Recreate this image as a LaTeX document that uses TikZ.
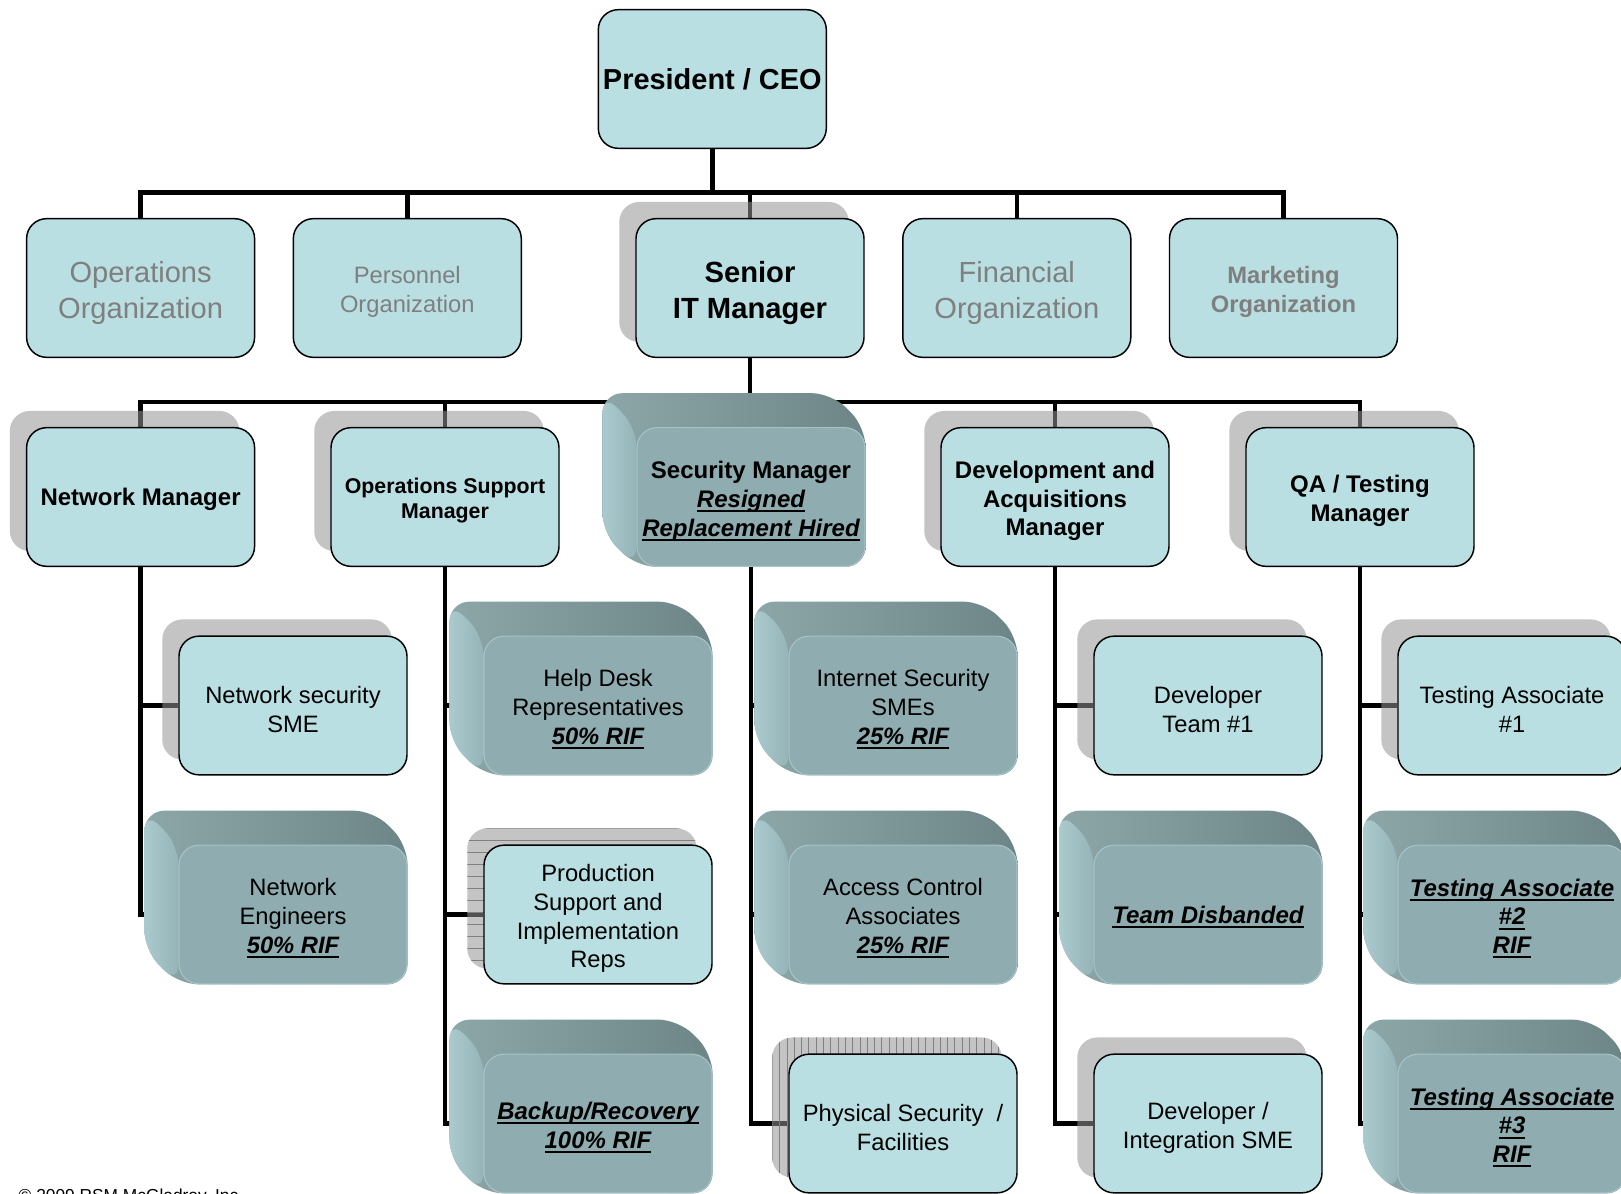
\documentclass[tikz,border=0pt]{standalone}
\usepackage{fontspec}
\setmainfont{Liberation Sans}
\usetikzlibrary{calc}
\pgfdeclarelayer{lines}
\pgfdeclarelayer{shade}
\pgfsetlayers{lines,shade,main}
\definecolor{boxc}{HTML}{B9DFE2}
\definecolor{frontc}{HTML}{8FADB0}
\definecolor{edgec}{HTML}{A6C4C7}
\definecolor{topc}{HTML}{6D8587}
\definecolor{topl}{HTML}{8DA7A9}
\definecolor{leftl}{HTML}{AACACD}
\definecolor{leftd}{HTML}{94B4B7}
\definecolor{greyt}{HTML}{7F7F7F}
\definecolor{shadowc}{gray}{0.58}
\definecolor{stripec}{gray}{0.5}
\newcommand\myul[1]{\leavevmode\setbox0\hbox{#1}\rlap{\copy0}\rule[-0.2em]{\wd0}{0.085em}}
\newcommand\stm{\rule{0pt}{1.06em}}
\newcommand\sts{\rule{0pt}{0.95em}}
\tikzset{
  basebox/.style={rectangle, rounded corners=15pt, minimum width=171pt, minimum height=104pt, inner sep=2pt, align=center},
  lbox/.style={basebox, draw=black, line width=1.1pt, fill=boxc},
  dbox/.style={basebox, draw=edgec, line width=0.8pt, fill=frontc},
  conn/.style={line width=3.4pt, black},
  treg/.style={font=\fontsize{17.8}{21.6}\selectfont},
  tbold/.style={font=\fontsize{18}{21.6}\selectfont\bfseries},
  tbig/.style={font=\fontsize{21.8}{27}\selectfont},
}
\newcommand\shad[1]{%
  \begin{pgfonlayer}{shade}
  \fill[shadowc, opacity=0.55, rounded corners=15pt] ([shift={(-16,-16)}]#1.south west) rectangle ([shift={(-16,-16)}]#1.north east);
  \end{pgfonlayer}}
\newcommand\shadH[1]{%
  \begin{pgfonlayer}{shade}
  \fill[shadowc, opacity=0.55, rounded corners=15pt] ([shift={(-16,-16)}]#1.south west) rectangle ([shift={(-16,-16)}]#1.north east);
  \begin{scope}
  \clip[rounded corners=15pt] ([shift={(-16,-16)}]#1.south west) rectangle ([shift={(-16,-16)}]#1.north east);
  \foreach \k in {0,...,13} \draw[stripec, line width=0.5pt] ($(#1.north west)+(-20,-16+\k*12)$) -- ++(250,0);
  \end{scope}
  \end{pgfonlayer}}
\newcommand\shadV[1]{%
  \begin{pgfonlayer}{shade}
  \fill[shadowc, opacity=0.55, rounded corners=15pt] ([shift={(-16,-16)}]#1.south west) rectangle ([shift={(-16,-16)}]#1.north east);
  \begin{scope}
  \clip[rounded corners=15pt] ([shift={(-16,-16)}]#1.south west) rectangle ([shift={(-16,-16)}]#1.north east);
  \foreach \k in {0,...,32} \draw[stripec, line width=0.5pt] ($(#1.north west)+(-16+\k*7.3,-20)$) -- ++(0,170);
  \end{scope}
  \end{pgfonlayer}}
\newcommand\threeD[1]{%
  \begin{pgfonlayer}{shade}
  \shade[left color=topl, right color=topc, rounded corners=15pt] ([shift={(-34,-34)}]#1.north west) -- ([shift={(-34,-34)}]#1.north east) -- (#1.north east) -- (#1.south east) -- (#1.south west) -- ([shift={(-34,-34)}]#1.south west) -- cycle;
  \shade[left color=leftl, right color=leftd, rounded corners=15pt] ([shift={(-34,-34)}]#1.north west) -- (#1.north west) -- (#1.south west) -- ([shift={(-34,-34)}]#1.south west) -- cycle;
  \end{pgfonlayer}}
\begin{document}
\begin{tikzpicture}[x=0.75pt,y=-0.75pt]
\useasboundingbox (0,0) rectangle (1621,1193);
\begin{pgfonlayer}{lines}
\fill[white] (0,0) rectangle (1621,1193);
\end{pgfonlayer}
\coordinate (bus1) at (712.3,192.3);
\coordinate (bus2) at (750,402.2);

% level 1
\node[lbox, font=\fontsize{21.7}{26}\selectfont\bfseries] (ceo) at (712.3,79) {President / CEO};

% level 2
\node[lbox, tbig, text=greyt] (ops) at (140.6,288) {\stm Operations\\Organization};
\node[lbox, treg, text=greyt] (pers) at (407.3,288) {\stm Personnel\\Organization};
\node[lbox, font=\fontsize{21.9}{27}\selectfont\bfseries] (sit) at (750,288) {\stm Senior\\IT Manager};
\node[lbox, tbig, text=greyt] (fin) at (1016.8,288) {\stm Financial\\Organization};
\node[lbox, font=\fontsize{17.8}{21.6}\selectfont\bfseries, text=greyt] (mkt) at (1283.5,288) {\stm Marketing\\Organization};

% level 3
\node[lbox, tbold] (nm) at (140.6,497) {\sts Network Manager};
\node[lbox, font=\fontsize{16}{19.4}\selectfont\bfseries] (osm) at (445,497) {\stm Operations Support\\Manager};
\node[dbox, tbold] (sec) at (751,497) {\stm Security Manager\\\myul{\itshape Resigned}\\\myul{\itshape Replacement Hired}};
\node[lbox, tbold] (dam) at (1055,497) {\stm Development and\\Acquisitions\\Manager};
\node[lbox, tbold] (qam) at (1360,497) {\stm QA / Testing\\Manager};

% level 4, column 1
\node[lbox, treg] (nss) at (293,705.5) {\stm Network security\\SME};
\node[dbox, treg] (ne) at (293,914.5) {\stm Network\\Engineers\\\myul{\bfseries\itshape 50\% RIF}};
% column 2
\node[dbox, treg] (hd) at (598,705.5) {\stm Help Desk\\Representatives\\\myul{\bfseries\itshape 50\% RIF}};
\node[lbox, treg] (ps) at (598,914.5) {\stm Production\\Support and\\Implementation\\Reps};
\node[dbox, tbold] (br) at (598,1123.5) {\stm\myul{\itshape Backup/Recovery}\\\myul{\itshape 100\% RIF}};
% column 3
\node[dbox, treg] (is) at (903,705.5) {\stm Internet Security\\SMEs\\\myul{\bfseries\itshape 25\% RIF}};
\node[dbox, treg] (ac) at (903,914.5) {\stm Access Control\\Associates\\\myul{\bfseries\itshape 25\% RIF}};
\node[lbox, treg] (phys) at (903,1123.5) {\stm Physical Security\ \ /\\Facilities};
% column 4
\node[lbox, treg] (dt) at (1208,705.5) {\stm Developer\\Team \#1};
\node[dbox, tbold] (td) at (1208,914.5) {\sts\myul{\itshape Team Disbanded}};
\node[lbox, treg] (dis) at (1208,1123.5) {\stm Developer /\\Integration SME};
% column 5
\node[lbox, treg] (ta1) at (1512,705.5) {\stm Testing Associate\\\#1};
\node[dbox, tbold] (ta2) at (1512,914.5) {\stm\myul{\itshape Testing Associate}\\\myul{\itshape \#2}\\\myul{\itshape RIF}};
\node[dbox, tbold] (ta3) at (1512,1123.5) {\stm\myul{\itshape Testing Associate}\\\myul{\itshape \#3}\\\myul{\itshape RIF}};

% connectors
\begin{pgfonlayer}{lines}
\draw[conn] (ceo.south) -- (bus1);
\draw[conn] (ops.north) |- (bus1) -| (mkt.north);
\draw[conn] (pers.north) -- (pers.north |- bus1);
\draw[conn] (sit.north) -- (sit.north |- bus1);
\draw[conn] (fin.north) -- (fin.north |- bus1);
\draw[conn] (sit.south) -- (bus2);
\draw[conn] (nm.north) |- (bus2) -| (qam.north);
\draw[conn] (osm.north) -- (osm.north |- bus2);
\draw[conn] (sec.north) -- (sec.north |- bus2);
\draw[conn] (dam.north) -- (dam.north |- bus2);
% columns
\draw[conn] (nm.south) |- (ne.west);
\draw[conn] (nss.west) -- (nss.west -| nm.south);
\draw[conn] (osm.south) |- (br.west);
\draw[conn] (hd.west) -- (hd.west -| osm.south);
\draw[conn] (ps.west) -- (ps.west -| osm.south);
\draw[conn] (sec.south) |- (phys.west);
\draw[conn] (is.west) -- (is.west -| sec.south);
\draw[conn] (ac.west) -- (ac.west -| sec.south);
\draw[conn] (dam.south) |- (dis.west);
\draw[conn] (dt.west) -- (dt.west -| dam.south);
\draw[conn] (td.west) -- (td.west -| dam.south);
\draw[conn] (qam.south) |- (ta3.west);
\draw[conn] (ta1.west) -- (ta1.west -| qam.south);
\draw[conn] (ta2.west) -- (ta2.west -| qam.south);
\end{pgfonlayer}

% shadows
\shad{sit}
\shad{nm}
\shad{osm}
\shad{dam}
\shad{qam}
\shad{nss}
\shadH{ps}
\shadV{phys}
\shad{dt}
\shad{dis}
\shad{ta1}
% 3D boxes
\threeD{sec}
\threeD{ne}
\threeD{hd}
\threeD{br}
\threeD{is}
\threeD{ac}
\threeD{td}
\threeD{ta2}
\threeD{ta3}

\node[anchor=base west, font=\fontsize{13}{15}\selectfont] (copy) at (14,1201) {© 2009 RSM McGladrey, Inc.};
\end{tikzpicture}
\end{document}
